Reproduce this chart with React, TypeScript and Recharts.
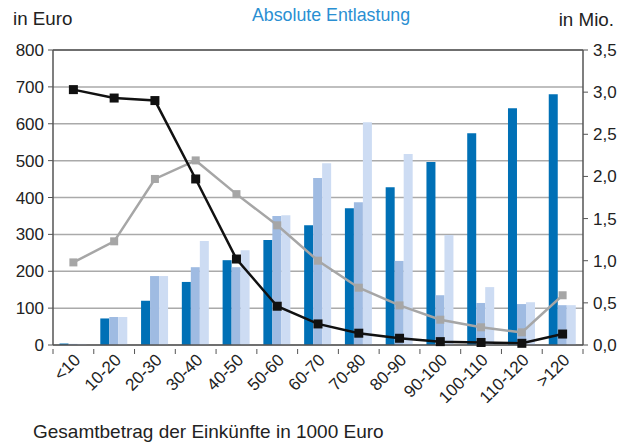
import React from 'react';
import {
  ComposedChart,
  Bar,
  Line,
  XAxis,
  YAxis,
  CartesianGrid,
  ReferenceLine,
} from 'recharts';

const categories = ['<10', '10-20', '20-30', '30-40', '40-50', '50-60', '60-70', '70-80', '80-90', '90-100', '100-110', '110-120', '>120'];

// Balken (linke Achse, in Euro)
const barDark = [4, 72, 120, 171, 230, 285, 325, 371, 428, 496, 574, 642, 680];
const barMedium = [3, 76, 187, 211, 211, 350, 453, 387, 228, 135, 114, 111, 108];
const barLight = [3, 76, 187, 282, 257, 352, 493, 604, 518, 298, 157, 116, 108];

// Linien (rechte Achse, in Mio.)
const lineBlack = [3.03, 2.93, 2.9, 1.97, 1.02, 0.46, 0.25, 0.14, 0.08, 0.04, 0.03, 0.02, 0.13];
const lineGray = [0.98, 1.23, 1.97, 2.19, 1.79, 1.42, 1.0, 0.68, 0.47, 0.3, 0.21, 0.15, 0.59];

const leftTicks = [0, 100, 200, 300, 400, 500, 600, 700, 800];
const rightTicks = [0, 0.5, 1, 1.5, 2, 2.5, 3, 3.5];

const data = categories.map((cat, i) => ({
  cat,
  dark: barDark[i],
  medium: barMedium[i],
  light: barLight[i],
  black: lineBlack[i],
  gray: lineGray[i],
}));

const FONT = '"Liberation Sans", Arial, Helvetica, sans-serif';
const TEXT = '#222';
const AXIS = '#555';

const PLOT_LEFT = 53;
const PLOT_RIGHT = 583;
const BAND = (PLOT_RIGHT - PLOT_LEFT) / categories.length;

const square = (color: string, size: number) => (props: any) => {
  const { cx, cy, index } = props;
  if (cx == null || cy == null) return <g key={index} />;
  return <rect key={index} x={cx - size / 2} y={cy - size / 2} width={size} height={size} fill={color} />;
};

const XTick = (props: any) => {
  const { x, y, payload, index } = props;
  const axisY = y - 6;
  const tx = x + 8;
  const ty = axisY + 10;
  return (
    <g>
      <line x1={x - BAND / 2} y1={axisY - 2} x2={x - BAND / 2} y2={axisY + 3} stroke={AXIS} strokeWidth={1} />
      {index === categories.length - 1 && (
        <line x1={x + BAND / 2} y1={axisY - 2} x2={x + BAND / 2} y2={axisY + 3} stroke={AXIS} strokeWidth={1} />
      )}
      <text
        x={tx}
        y={ty}
        textAnchor="end"
        transform={`rotate(-45, ${tx}, ${ty})`}
        fontSize={17}
        fontFamily={FONT}
        fill={TEXT}
      >
        {payload.value}
      </text>
    </g>
  );
};

export default function App() {
  return (
    <div style={{ position: 'absolute', left: 0, top: 0, width: 631, height: 443, background: '#fff', fontFamily: FONT }}>
      <div style={{ position: 'absolute', left: 13, top: 8, fontSize: 18.8, lineHeight: '22px', color: TEXT }}>in Euro</div>
      <div style={{ position: 'absolute', left: 0, width: 662, top: 4, textAlign: 'center', fontSize: 17.8, lineHeight: '22px', color: '#2a8fd2' }}>
        Absolute Entlastung
      </div>
      <div style={{ position: 'absolute', right: 17, top: 9, fontSize: 18.8, lineHeight: '22px', color: TEXT }}>in Mio.</div>
      <div style={{ position: 'absolute', left: 33, top: 421, fontSize: 19, lineHeight: '22px', color: TEXT }}>
        Gesamtbetrag der Einkünfte in 1000 Euro
      </div>
      <ComposedChart
        width={631}
        height={443}
        data={data}
        margin={{ top: 50, right: 0, left: 0, bottom: 0 }}
        barGap={0}
        barCategoryGap="16%"
        style={{ position: 'absolute', left: 0, top: 0 }}
      >
        <CartesianGrid vertical={false} stroke="#aaa" strokeWidth={1.5} yAxisId="l" />
        <XAxis
          dataKey="cat"
          height={98}
          interval={0}
          tickLine={false}
          tick={<XTick />}
          tickMargin={6}
          axisLine={{ stroke: AXIS, strokeWidth: 1.5 }}
        />
        <YAxis
          yAxisId="l"
          width={53}
          domain={[0, 800]}
          ticks={leftTicks}
          interval={0}
          tickSize={5}
          tickMargin={4}
          tick={{ fontSize: 17, fill: TEXT, fontFamily: FONT }}
          axisLine={{ stroke: AXIS, strokeWidth: 1.5 }}
          tickLine={{ stroke: AXIS }}
        />
        <YAxis
          yAxisId="r"
          orientation="right"
          width={48}
          domain={[0, 3.5]}
          ticks={rightTicks}
          interval={0}
          tickSize={5}
          tickMargin={5}
          tickFormatter={(v: number) => v.toFixed(1).replace('.', ',')}
          tick={{ fontSize: 17, fill: TEXT, fontFamily: FONT, textAnchor: 'start' }}
          axisLine={{ stroke: AXIS, strokeWidth: 1.5 }}
          tickLine={{ stroke: AXIS }}
        />
        <ReferenceLine yAxisId="l" y={800} stroke={AXIS} strokeWidth={1.5} />
        <Bar yAxisId="l" dataKey="dark" fill="#0070b6" isAnimationActive={false} />
        <Bar yAxisId="l" dataKey="medium" fill="#9fbbe2" isAnimationActive={false} />
        <Bar yAxisId="l" dataKey="light" fill="#cddcf3" isAnimationActive={false} />
        <Line
          yAxisId="r"
          type="linear"
          dataKey="gray"
          stroke="#a6a6a6"
          strokeWidth={2.5}
          dot={square('#a6a6a6', 8)}
          activeDot={false}
          isAnimationActive={false}
        />
        <Line
          yAxisId="r"
          type="linear"
          dataKey="black"
          stroke="#111"
          strokeWidth={2.5}
          dot={square('#111', 9)}
          activeDot={false}
          isAnimationActive={false}
        />
      </ComposedChart>
    </div>
  );
}
